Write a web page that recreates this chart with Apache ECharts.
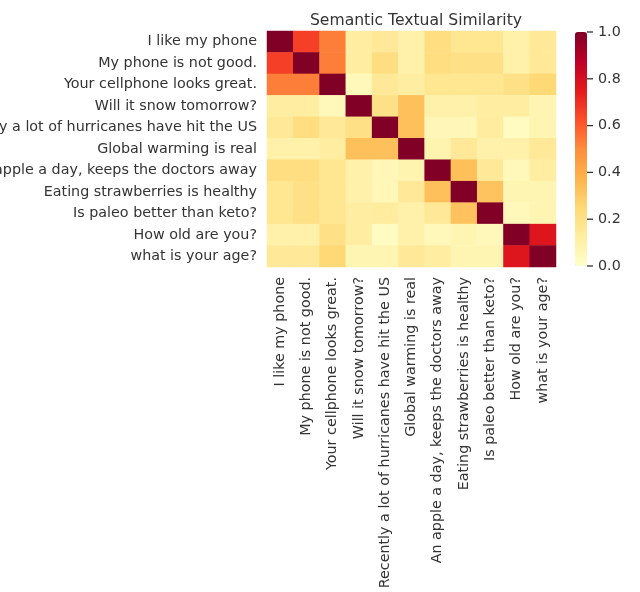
<!DOCTYPE html>
<html>
<head>
<meta charset="utf-8">
<script src="https://cdn.jsdelivr.net/npm/echarts@6/dist/echarts.min.js"></script>
<style>
html,body{margin:0;padding:0;background:#fff;}
#chart{width:640px;height:592px;}
</style>
</head>
<body>
<div id="chart"></div>
<script>
const sentences = [
  "I like my phone",
  "My phone is not good.",
  "Your cellphone looks great.",
  "Will it snow tomorrow?",
  "Recently a lot of hurricanes have hit the US",
  "Global warming is real",
  "An apple a day, keeps the doctors away",
  "Eating strawberries is healthy",
  "Is paleo better than keto?",
  "How old are you?",
  "what is your age?"
];
const similarity = [
  [1.00, 0.66, 0.53, 0.12, 0.15, 0.10, 0.22, 0.17, 0.17, 0.10, 0.15],
  [0.66, 1.00, 0.53, 0.12, 0.22, 0.10, 0.22, 0.20, 0.20, 0.10, 0.15],
  [0.53, 0.53, 1.00, 0.05, 0.15, 0.12, 0.17, 0.17, 0.17, 0.20, 0.25],
  [0.12, 0.12, 0.05, 1.00, 0.20, 0.33, 0.10, 0.10, 0.12, 0.12, 0.07],
  [0.15, 0.22, 0.15, 0.20, 1.00, 0.33, 0.06, 0.06, 0.13, 0.03, 0.07],
  [0.10, 0.10, 0.12, 0.33, 0.33, 1.00, 0.08, 0.15, 0.10, 0.10, 0.15],
  [0.22, 0.22, 0.17, 0.10, 0.06, 0.08, 1.00, 0.33, 0.15, 0.05, 0.12],
  [0.17, 0.20, 0.17, 0.10, 0.06, 0.15, 0.33, 1.00, 0.32, 0.07, 0.07],
  [0.17, 0.20, 0.17, 0.12, 0.13, 0.10, 0.15, 0.32, 1.00, 0.05, 0.07],
  [0.10, 0.10, 0.20, 0.12, 0.03, 0.10, 0.05, 0.07, 0.05, 1.00, 0.77],
  [0.15, 0.15, 0.25, 0.07, 0.07, 0.15, 0.12, 0.07, 0.07, 0.77, 1.00]
];
const colorbarTicks = [0, 0.2, 0.4, 0.6, 0.8, 1.0];
const ylOrRd = ['#ffffcc','#ffeda0','#fed976','#feb24c','#fd8d3c','#fc4e2a','#e31a1c','#bd0026','#800026'];

const cells = [];
similarity.forEach((row, i) => row.forEach((v, j) => cells.push([j, i, v])));

const font = 'DejaVu Sans';
const fs = 14.3;
const chart = echarts.init(document.getElementById('chart'));
chart.setOption({
  backgroundColor: '#fff',
  animation: false,
  textStyle: {fontFamily: font},
  title: {
    text: 'Semantic Textual Similarity',
    left: 411, top: 8, textAlign: 'center',
    textStyle: {fontFamily: font, fontSize: 15.6, fontWeight: 'normal', color: '#333'}
  },
  grid: [
    {left: 267, top: 31, width: 289, height: 236, containLabel: false, outerBoundsMode: 'none'},
    {left: 575, top: 32, width: 12, height: 234, containLabel: false, outerBoundsMode: 'none'}
  ],
  xAxis: [
    {
      type: 'category', data: sentences, gridIndex: 0,
      axisLine: {show: false}, axisTick: {show: false}, splitLine: {show: false},
      axisLabel: {rotate: 90, interval: 0, margin: 10, fontSize: fs, color: '#333', fontFamily: font}
    },
    {type: 'value', gridIndex: 1, show: false, min: 0, max: 1}
  ],
  yAxis: [
    {
      type: 'category', data: sentences, gridIndex: 0, inverse: true,
      axisLine: {show: false}, axisTick: {show: false}, splitLine: {show: false},
      axisLabel: {interval: 0, margin: 10, fontSize: fs, color: '#333', fontFamily: font}
    },
    {
      type: 'value', gridIndex: 1, position: 'right', min: 0, max: 1, interval: 0.2,
      axisLine: {show: false}, splitLine: {show: false}, axisTick: {show: false},
      axisLabel: {
        margin: 0, fontSize: fs, color: '#333', fontFamily: font,
        formatter: v => '{t|}{v|' + v.toFixed(1) + '}',
        rich: {
          t: {width: 6, height: 1.3, backgroundColor: '#333', verticalAlign: 'middle'},
          v: {padding: [0, 0, 0, 5], fontSize: fs, color: '#333', fontFamily: font, verticalAlign: 'middle'}
        }
      }
    }
  ],
  visualMap: {
    type: 'continuous', min: 0, max: 1, seriesIndex: 0,
    calculable: false, show: true, showLabel: false,
    left: 575, top: 32, itemWidth: 12, itemHeight: 234, padding: 0,
    inRange: {color: ylOrRd}
  },
  series: [
    {
      type: 'heatmap', xAxisIndex: 0, yAxisIndex: 0, data: cells,
      itemStyle: {borderWidth: 0}, emphasis: {disabled: true}
    },
    {
      type: 'scatter', xAxisIndex: 1, yAxisIndex: 1, silent: true,
      data: colorbarTicks.map(v => [0.5, v]), symbolSize: 0,
      itemStyle: {opacity: 0}
    }
  ]
});
</script>
</body>
</html>
